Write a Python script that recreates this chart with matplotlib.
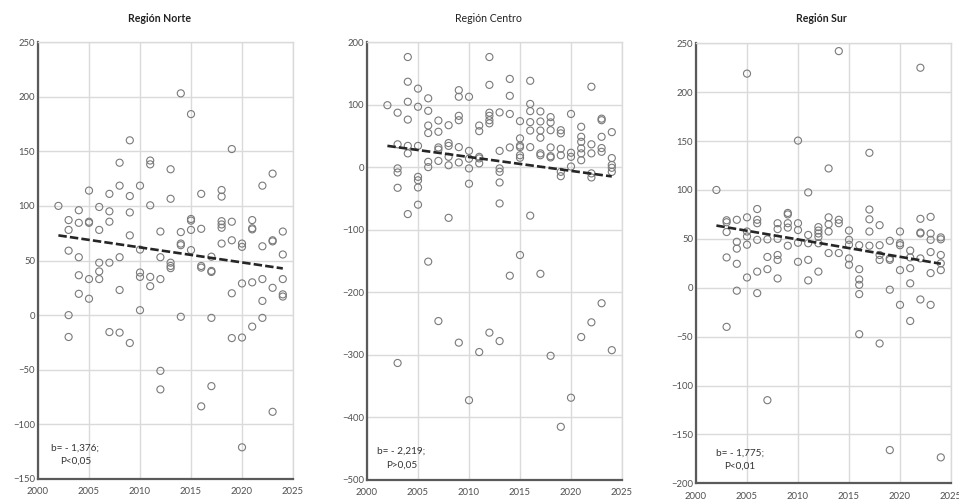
import numpy as np
import matplotlib
matplotlib.use("Agg")
import matplotlib.pyplot as plt

plt.rcParams['font.family'] = ['Lato', 'DejaVu Sans']

years = [2002, 2003, 2004, 2005, 2006, 2007, 2008, 2009, 2010, 2011, 2012,
         2013, 2014, 2015, 2016, 2017, 2018, 2019, 2020, 2021, 2022, 2023, 2024]

norte = [
    [100],
    [87, 78, 59, 0, -20],
    [96, 84.5, 53, 36.5, 19.5],
    [114, 85.5, 84.5, 33, 15],
    [99, 78, 48, 40, 33],
    [111, 95, 85.5, 48, -15.5],
    [139.5, 118.5, 53, 23, -16],
    [160, 109, 94, 73, -25.5],
    [118.5, 60, 39, 35, 4.5],
    [141.5, 138, 100.5, 35, 26.5],
    [76.5, 53, 33, -51, -68],
    [133.5, 106.5, 48, 45, 43],
    [203, 76, 65.5, 64, -1.5],
    [184, 88, 86.5, 78, 59.5],
    [111, 79, 45, 43.5, -83.5],
    [53.5, 40.5, 39.5, -2.5, -65],
    [114.5, 108.5, 86, 83, 80, 65.5],
    [152, 85.5, 68.5, 20, -21],
    [65.5, 62.5, 29, -20.5, -121],
    [87, 79.5, 78.5, 30, -10.5],
    [118.5, 63, 33, 13, -2.5],
    [129.5, 68.5, 67.5, 25, -88.5],
    [76.5, 55.5, 33, 19, 17],
]

centro = [
    [99],
    [87, 36.5, -2, -8.5, -33, -313],
    [176, 136.5, 104.5, 76, 34, 22, -75],
    [125.5, 96.5, 34, -15.5, -21, -32.5, -60],
    [110, 90, 66.5, 54.5, 8.5, 0, -151],
    [74.5, 56.5, 31.5, 28, 10, -246],
    [67, 38.5, 34, 16.5, 3, -81],
    [123, 112.5, 82, 75, 32, 7.5, -280.5],
    [112.5, 26, 13.5, -2, -26.5, -372.5],
    [66.5, 57.5, 16.5, 14, 6, -295.5],
    [176, 131.5, 87, 82, 75, 70, -264.5],
    [87.5, 26, -2, -7.5, -24.5, -58, -278],
    [141, 114, 85, 31.5, -173.5],
    [73.5, 46, 34.5, 32, 19, 15, -140.5],
    [138, 101, 89.5, 72, 58.5, 32, -77.5],
    [89, 73, 58.5, 47, 22, 19, -170.5],
    [80, 71.5, 59, 31.5, 17.5, 15.5, -301.5],
    [59, 54, 29.5, 19, -7.5, -14.5, -415],
    [85, 23, 16.5, 1, -368.5],
    [64.5, 48.5, 40.5, 30, 22, 11, -271.5],
    [128.5, 36.5, 22, -10, -16.5, -248],
    [77.5, 75, 48.5, 30.5, 24.5, -217.5],
    [56, 14.5, 3.5, -1, -7.5, -292.5],
]

sur = [
    [100],
    [69, 67, 57, 31, -40],
    [69.5, 47, 40, 24.5, -3],
    [219, 72, 57.5, 52.5, 44, 10.5],
    [80.5, 69.5, 66, 49, 16.5, -5.5],
    [49.5, 31.5, 19, -115],
    [66, 60, 50, 33.5, 28.5, 9.5],
    [76.5, 75, 66, 61.5, 43],
    [150.5, 66, 59, 46, 26.5],
    [97.5, 54, 45.5, 28.5, 7.5],
    [62, 58.5, 55.5, 52, 45.5, 16.5],
    [122, 72, 65, 57.5, 35.5],
    [242, 69.5, 66, 35.5],
    [58.5, 49, 44, 30, 23.5],
    [43.5, 19, 8.5, 3, -6.5, -47.5],
    [138, 80, 70, 57.5, 43],
    [64, 43.5, 33.5, 28.5, -57],
    [48, 30, 28.5, -2, -166],
    [57.5, 45.5, 43.5, 18, -17.5],
    [38, 31, 20, 4.5, -34],
    [225, 70.5, 56.5, 55.5, 30, -12],
    [72.5, 55.5, 49, 36.5, 15, -17.5],
    [51.5, 49.5, 33.5, 25, 18, -173.5],
]

titles = ['Región Norte', 'Región Centro', 'Región Sur']
title_bold = [True, False, True]
slopes = [-1.376, -2.219, -1.775]
trend_at_start = [73, 34, 63.6]
stats_text = ['b= - 1,376;\nP<0,05', 'b= - 2,219;\nP>0,05', 'b= - 1,775;\nP<0,01']
y_limits = [(-150, 250), (-500, 200), (-200, 250)]
y_steps = [50, 100, 50]
x_ticks = [2000, 2005, 2010, 2015, 2020, 2025]

fig = plt.figure(figsize=(9.59, 5.03), dpi=100)
W, H = 959, 503
rects_px = [(38, 42, 293, 479), (367, 42, 622, 480), (696, 43.3, 951, 483.3)]
title_x = [160, 488, 821]
text_pos = [(0.147, 0.056), (0.135, 0.05), (0.173, 0.054)]

for i, data in enumerate([norte, centro, sur]):
    l, t, r, b = rects_px[i]
    ax = fig.add_axes([l / W, 1 - b / H, (r - l) / W, (b - t) / H])
    xs = np.concatenate([[yr] * len(v) for yr, v in zip(years, data)])
    ys = np.concatenate([v for v in data])
    ax.scatter(xs, ys, s=26, facecolors='none', edgecolors='#7a7a7a',
               linewidths=0.8, zorder=3)
    xt = np.array([years[0], years[-1]])
    yt = trend_at_start[i] + slopes[i] * (xt - years[0])
    ax.plot(xt, yt, color='#262626', lw=1.9, linestyle=(0, (3.2, 1.2)), zorder=4)
    lo, hi = y_limits[i]
    ax.set_ylim(lo, hi)
    ax.set_xlim(2000, 2025)
    ax.set_yticks(np.arange(lo, hi + 1, y_steps[i]))
    ax.set_xticks(x_ticks)
    ax.grid(True, color='#dadada', lw=1.0, zorder=0)
    ax.set_axisbelow(True)
    for s in ['top', 'right']:
        ax.spines[s].set_color('#dadada')
        ax.spines[s].set_linewidth(1.0)
    for s in ['left', 'bottom']:
        ax.spines[s].set_color('#5a5a5a')
        ax.spines[s].set_linewidth(1.6)
    ax.tick_params(axis='both', length=0, labelsize=6.8, colors='#505050')
    ax.tick_params(axis='y', pad=2)
    ax.tick_params(axis='x', pad=6)
    ax.text(text_pos[i][0], text_pos[i][1], stats_text[i], transform=ax.transAxes,
            ha='center', va='center', fontsize=7.2, color='#333333',
            linespacing=1.6)
    fig.text(title_x[i] / W, 1 - 19 / H, titles[i], ha='center', va='center',
             fontsize=7.6, fontweight='bold' if title_bold[i] else 'normal',
             color='#222222')

fig.savefig('out.png', dpi=100)
